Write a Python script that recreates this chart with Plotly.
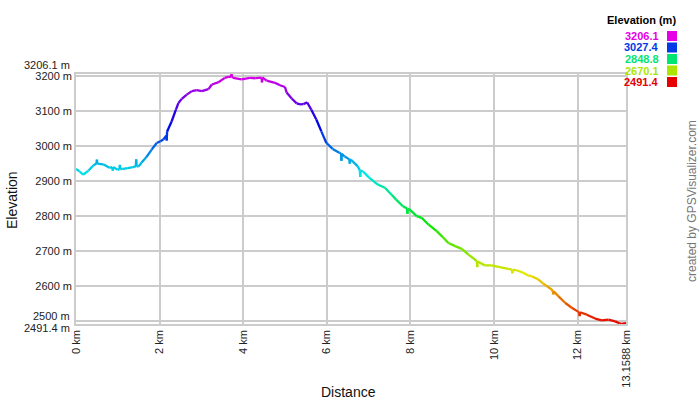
import colorsys
import plotly.graph_objects as go

# ---------------- data ----------------
dist_km = [0.00, 0.08, 0.17, 0.30, 0.42, 0.49, 0.50, 0.51, 0.65, 0.80, 0.87, 0.88, 0.89,
           1.00, 1.04, 1.05, 1.06, 1.12, 1.24, 1.36, 1.43, 1.44, 1.45, 1.50, 1.57, 1.68,
           1.81, 1.93, 2.02, 2.09, 2.16, 2.17, 2.18, 2.29, 2.39, 2.45, 2.53, 2.65, 2.77,
           2.89, 3.01, 3.17, 3.25, 3.40, 3.56, 3.64, 3.71, 3.72, 3.73, 3.76, 3.96, 4.16,
           4.30, 4.44, 4.45, 4.46, 4.56, 4.76, 4.88, 5.00, 5.04, 5.16, 5.28, 5.36, 5.44,
           5.53, 5.63, 5.75, 5.87, 5.99, 6.14, 6.30, 6.34, 6.35, 6.36, 6.42, 6.54, 6.55,
           6.56, 6.58, 6.74, 6.79, 6.80, 6.81, 6.86, 7.02, 7.22,
           7.39, 7.55, 7.66, 7.82, 7.92, 7.93, 7.94, 7.98, 8.15, 8.27, 8.43, 8.63, 8.79,
           8.91, 9.07, 9.23, 9.39, 9.59, 9.60, 9.61, 9.78, 9.94, 10.14, 10.34, 10.43, 10.44,
           10.45, 10.54, 10.70, 10.82, 10.90, 11.06, 11.18,
           11.26, 11.38, 11.41, 11.42, 11.43, 11.54, 11.70, 11.86, 12.02, 12.04, 12.05,
           12.06, 12.22, 12.42, 12.58, 12.74, 12.90,
           13.01, 13.05, 13.1588]
elev_m = [2935, 2928, 2918, 2930, 2945, 2950, 2961, 2950, 2948, 2938, 2940, 2930, 2940,
          2932, 2934, 2946, 2934, 2935, 2937, 2940, 2942, 2962, 2942, 2942, 2953, 2968,
          2990, 3009, 3014, 3019, 3030, 3016, 3042, 3071, 3104, 3123, 3135, 3147, 3157,
          3160, 3157, 3163, 3176, 3182, 3195, 3198, 3198, 3206.1, 3198, 3195, 3191, 3195,
          3194, 3196, 3182, 3196, 3187, 3181, 3174, 3169, 3153, 3136, 3122, 3119, 3120,
          3125, 3104, 3076, 3042, 3009, 2992, 2981, 2979, 2958, 2978, 2971, 2962, 2950,
          2962, 2961, 2942, 2931, 2912, 2930, 2928, 2909, 2890,
          2881, 2861, 2847, 2828, 2822, 2806, 2821, 2819, 2800, 2795, 2776, 2757, 2738,
          2723, 2714, 2706, 2690, 2671, 2654, 2670, 2659, 2659, 2654, 2649, 2647, 2636,
          2647, 2645, 2638, 2630, 2628, 2619, 2607,
          2600, 2590, 2585, 2576, 2585, 2571, 2552, 2538, 2526, 2525, 2514,
          2525, 2518, 2507, 2502, 2504, 2499,
          2493, 2491.4, 2494]

y_ticks = [2500, 2600, 2700, 2800, 2900, 3000, 3100, 3200]
y_tick_labels = ["", "2600 m", "2700 m", "2800 m", "2900 m", "3000 m", "3100 m", "3200 m"]
x_ticks = [0, 2, 4, 6, 8, 10, 12, 13.1588]
x_tick_labels = ["0 km", "2 km", "4 km", "6 km", "8 km", "10 km", "12 km", "13.1588 km"]
legend_values = [3206.1, 3027.4, 2848.8, 2670.1, 2491.4]

E_MIN, E_MAX = 2491.4, 3206.1
FONT = "Liberation Sans, Arial, sans-serif"

# plot-area geometry in pixels (for paper-coordinate conversions)
PL, PR, PT, PB = 76, 626, 74, 324
W, H = 700, 400


def px_x(px):
    return (px - PL) / (PR - PL)


def px_y(py):
    return (PB - py) / (PB - PT)


def elev_color(e):
    f = (e - E_MIN) / (E_MAX - E_MIN)
    f = min(max(f, 0), 1)
    r, g, b = colorsys.hsv_to_rgb(f * 300 / 360, 1.0, 0.9)
    return "rgb(%d,%d,%d)" % (round(r * 255), round(g * 255), round(b * 255))


fig = go.Figure()

for i in range(len(dist_km) - 1):
    e_mid = (elev_m[i] + elev_m[i + 1]) / 2
    fig.add_trace(go.Scatter(
        x=[dist_km[i], dist_km[i + 1]],
        y=[elev_m[i], elev_m[i + 1]],
        mode="lines",
        line=dict(color=elev_color(e_mid), width=2.3),
        showlegend=False,
        hoverinfo="skip",
    ))

tick_font = dict(family=FONT, size=11, color="#222")
annotations = []
# extra y labels at range ends
annotations.append(dict(x=0, xref="paper", y=E_MAX, yref="y", text="3206.1 m",
                        xanchor="right", yanchor="middle", showarrow=False, xshift=-4,
                        yshift=9, font=tick_font))
annotations.append(dict(x=0, xref="paper", y=2500, yref="y", text="2500 m",
                        xanchor="right", yanchor="middle", showarrow=False, xshift=-4,
                        yshift=5, font=tick_font))
annotations.append(dict(x=0, xref="paper", y=E_MIN, yref="y", text="2491.4 m",
                        xanchor="right", yanchor="middle", showarrow=False, xshift=-4,
                        yshift=-4, font=tick_font))
# axis titles
annotations.append(dict(x=px_x(12), xref="paper", y=px_y(200), yref="paper", text="Elevation",
                        textangle=-90, showarrow=False, xanchor="center", yanchor="middle",
                        font=dict(family=FONT, size=14, color="#111")))
annotations.append(dict(x=px_x(348), xref="paper", y=px_y(392), yref="paper", text="Distance",
                        showarrow=False, xanchor="center", yanchor="middle",
                        font=dict(family=FONT, size=14, color="#111")))
# credit
annotations.append(dict(x=px_x(692), xref="paper", y=px_y(201), yref="paper",
                        text="created by GPSVisualizer.com", textangle=-90, showarrow=False,
                        xanchor="center", yanchor="middle",
                        font=dict(family=FONT, size=12, color="#777")))
# legend title
annotations.append(dict(x=px_x(678), xref="paper", y=px_y(20), yref="paper",
                        text="<b>Elevation (m)</b>", showarrow=False, xanchor="right",
                        yanchor="middle", font=dict(family=FONT, size=11, color="#000")))

shapes = []
row_y = [36, 47.5, 59, 70.5, 82]
for v, ry in zip(legend_values, row_y):
    c = elev_color(v)
    annotations.append(dict(x=px_x(661), xref="paper", y=px_y(ry), yref="paper",
                            text="<b>%.1f</b>" % v, showarrow=False, xanchor="right",
                            yanchor="middle", font=dict(family=FONT, size=11, color=c)))
    shapes.append(dict(type="rect", xref="paper", yref="paper",
                       x0=px_x(667), x1=px_x(677), y0=px_y(ry + 5), y1=px_y(ry - 5),
                       fillcolor=c, line=dict(width=0)))

fig.update_layout(
    width=W, height=H,
    margin=dict(l=PL, r=W - PR, t=PT, b=H - PB, autoexpand=False),
    paper_bgcolor="white", plot_bgcolor="white",
    annotations=annotations, shapes=shapes,
    font=dict(family=FONT, size=11, color="#222"),
    xaxis=dict(range=[0, 13.1588], tickvals=x_ticks, ticktext=x_tick_labels,
               tickangle=-90, showgrid=True, gridcolor="#cccccc", gridwidth=1.5,
               showline=True, linecolor="#cccccc", linewidth=1.5, mirror=True,
               zeroline=False, ticks="", tickfont=tick_font, automargin=False),
    yaxis=dict(range=[E_MIN, E_MAX], tickvals=y_ticks, ticktext=y_tick_labels,
               showgrid=True, gridcolor="#cccccc", gridwidth=1.5,
               showline=True, linecolor="#cccccc", linewidth=1.5, mirror=True,
               zeroline=False, ticks="", tickfont=tick_font, automargin=False),
)

fig.write_html(
    "out.html",
    config={"displayModeBar": False},
    post_script="document.body.style.margin='0';document.body.style.overflow='hidden';",
)
